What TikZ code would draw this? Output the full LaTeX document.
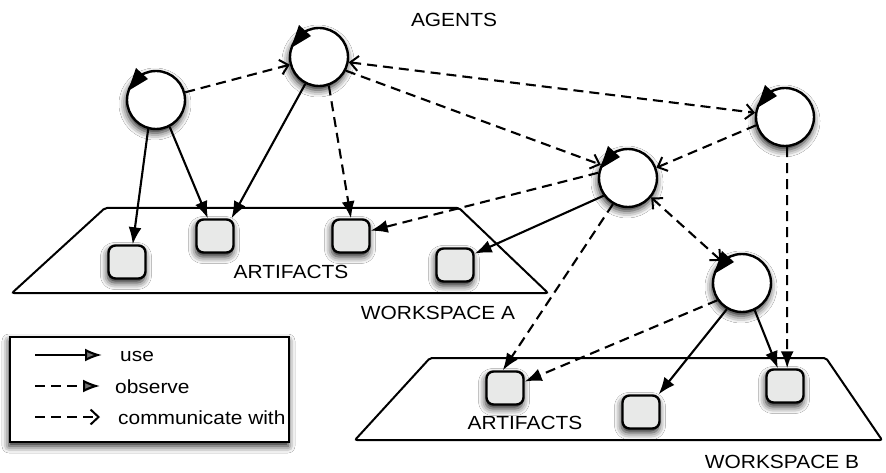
\documentclass[tikz,border=0pt]{standalone}
\usepackage{fontspec}
\setmainfont{Liberation Sans}[FakeStretch=1.1]
\usetikzlibrary{arrows.meta,shadows.blur}
\definecolor{artgray}{HTML}{E8E9E8}
\newcommand{\agentmark}[1]{%
  \fill[shift={(#1)}] (-28,-9) -- (-8,-21) -- (-20,-32) -- cycle;}
\begin{document}
\begin{tikzpicture}[x=1pt,y=-1pt,
  every node/.style={font=\fontsize{19}{22}\selectfont},
  softshadow/.style={blur shadow={shadow xshift=-1pt, shadow yshift=-4pt,
      shadow blur radius=7pt, shadow opacity=90}},
  agent/.style={circle, draw, line width=2.4pt, fill=white,
      minimum size=58pt, inner sep=0pt, softshadow},
  artifact/.style={rectangle, rounded corners=7pt, draw, line width=2.4pt,
      fill=artgray, minimum width=37pt, minimum height=33pt, inner sep=0pt,
      softshadow},
  space/.style={line width=2pt, rounded corners=2pt},
  caption/.style={inner sep=0pt, text=black},
  usearrow/.style={line width=2.1pt, -{Latex[length=17pt,width=13pt]}},
  observearrow/.style={usearrow, dash pattern=on 10pt off 6pt},
  barb/.tip={Straight Barb[length=8pt,width=15pt,line width=2pt]},
  talkarrow/.style={line width=2.1pt, dash pattern=on 10pt off 6pt, -barb},
  talkboth/.style={talkarrow, barb-barb}
]
\useasboundingbox (0,0) rectangle (886,473);
\fill[white] (0,0) rectangle (886,473);

% workspaces
\draw[space] (105,208) -- (459,208) -- (548,293) -- (12,293) -- cycle;
\draw[space] (430,358) -- (826,358) -- (882,440) -- (355,440) -- cycle;

% captions
\node[caption] (agents) at (454,20) {AGENTS};
\node[caption] (artA) at (291,272) {ARTIFACTS};
\node[caption] (wsA) at (438,313) {WORKSPACE A};
\node[caption] (artB) at (525,423) {ARTIFACTS};
\node[caption] (wsB) at (782,462) {WORKSPACE B};

% artifacts
\node[artifact] (R1) at (127,262) {};
\node[artifact] (R2) at (215,236) {};
\node[artifact] (R3) at (351,236) {};
\node[artifact] (R4) at (455,265) {};
\node[artifact] (R5) at (505,388) {};
\node[artifact] (R6) at (641,412) {};
\node[artifact] (R7) at (785,386) {};

% agents
\node[agent] (A1) at (156,100) {};
\node[agent] (A2) at (319,57) {};
\node[agent] (A3) at (628,178) {};
\node[agent] (A4) at (785,117) {};
\node[agent] (A5) at (742,283) {};
\agentmark{A1}
\agentmark{A2}
\agentmark{A3}
\agentmark{A4}
\agentmark{A5}

% use
\draw[usearrow] (A1.-105) -- (R1.72);
\draw[usearrow] (A1.-63) -- (R2.112);
\draw[usearrow] (A2.-117) -- (R2.47);
\draw[usearrow] (A3.-144) -- (R4.30);
\draw[usearrow] (A5.-120) -- (R6.45);
\draw[usearrow] (A5.-65) -- (R7.112);

% observe
\draw[observearrow] (A2.-71) -- (R3.north);
\draw[observearrow] (A3.170) -- (R3.15);
\draw[observearrow] (A3.-120) -- (R5.97);
\draw[observearrow] (A5.-145) -- (R5.18);
\draw[observearrow] (A4.-86) -- (R7.83);

% communicate with
\draw[talkarrow] (A1) -- (A2);
\draw[talkboth] (A2.-10) -- (A4.172);
\draw[talkarrow] (A2.-27) -- (A3.154);
\draw[talkarrow] (A4.-164) -- (A3.20);
\draw[talkboth] (A3.-40) -- (A5.133);

% legend
\draw[line width=2.4pt, fill=white, softshadow] (10,337) rectangle (289,442);
\coordinate (u1) at (35,355);  \coordinate (u2) at (102,355);
\coordinate (o1) at (35,386);  \coordinate (o2) at (100,386);
\coordinate (c1) at (35,417);  \coordinate (c2) at (100,417);
\draw[usearrow] (u1) -- (u2);
\draw[observearrow] (o1) -- (o2);
\draw[talkarrow] (c1) -- (c2);
\node[caption, anchor=west] (luse) at (120,356) {use};
\node[caption, anchor=west] (lobs) at (115,387) {observe};
\node[caption, anchor=west] (lcom) at (118,418) {communicate with};
\end{tikzpicture}
\end{document}
